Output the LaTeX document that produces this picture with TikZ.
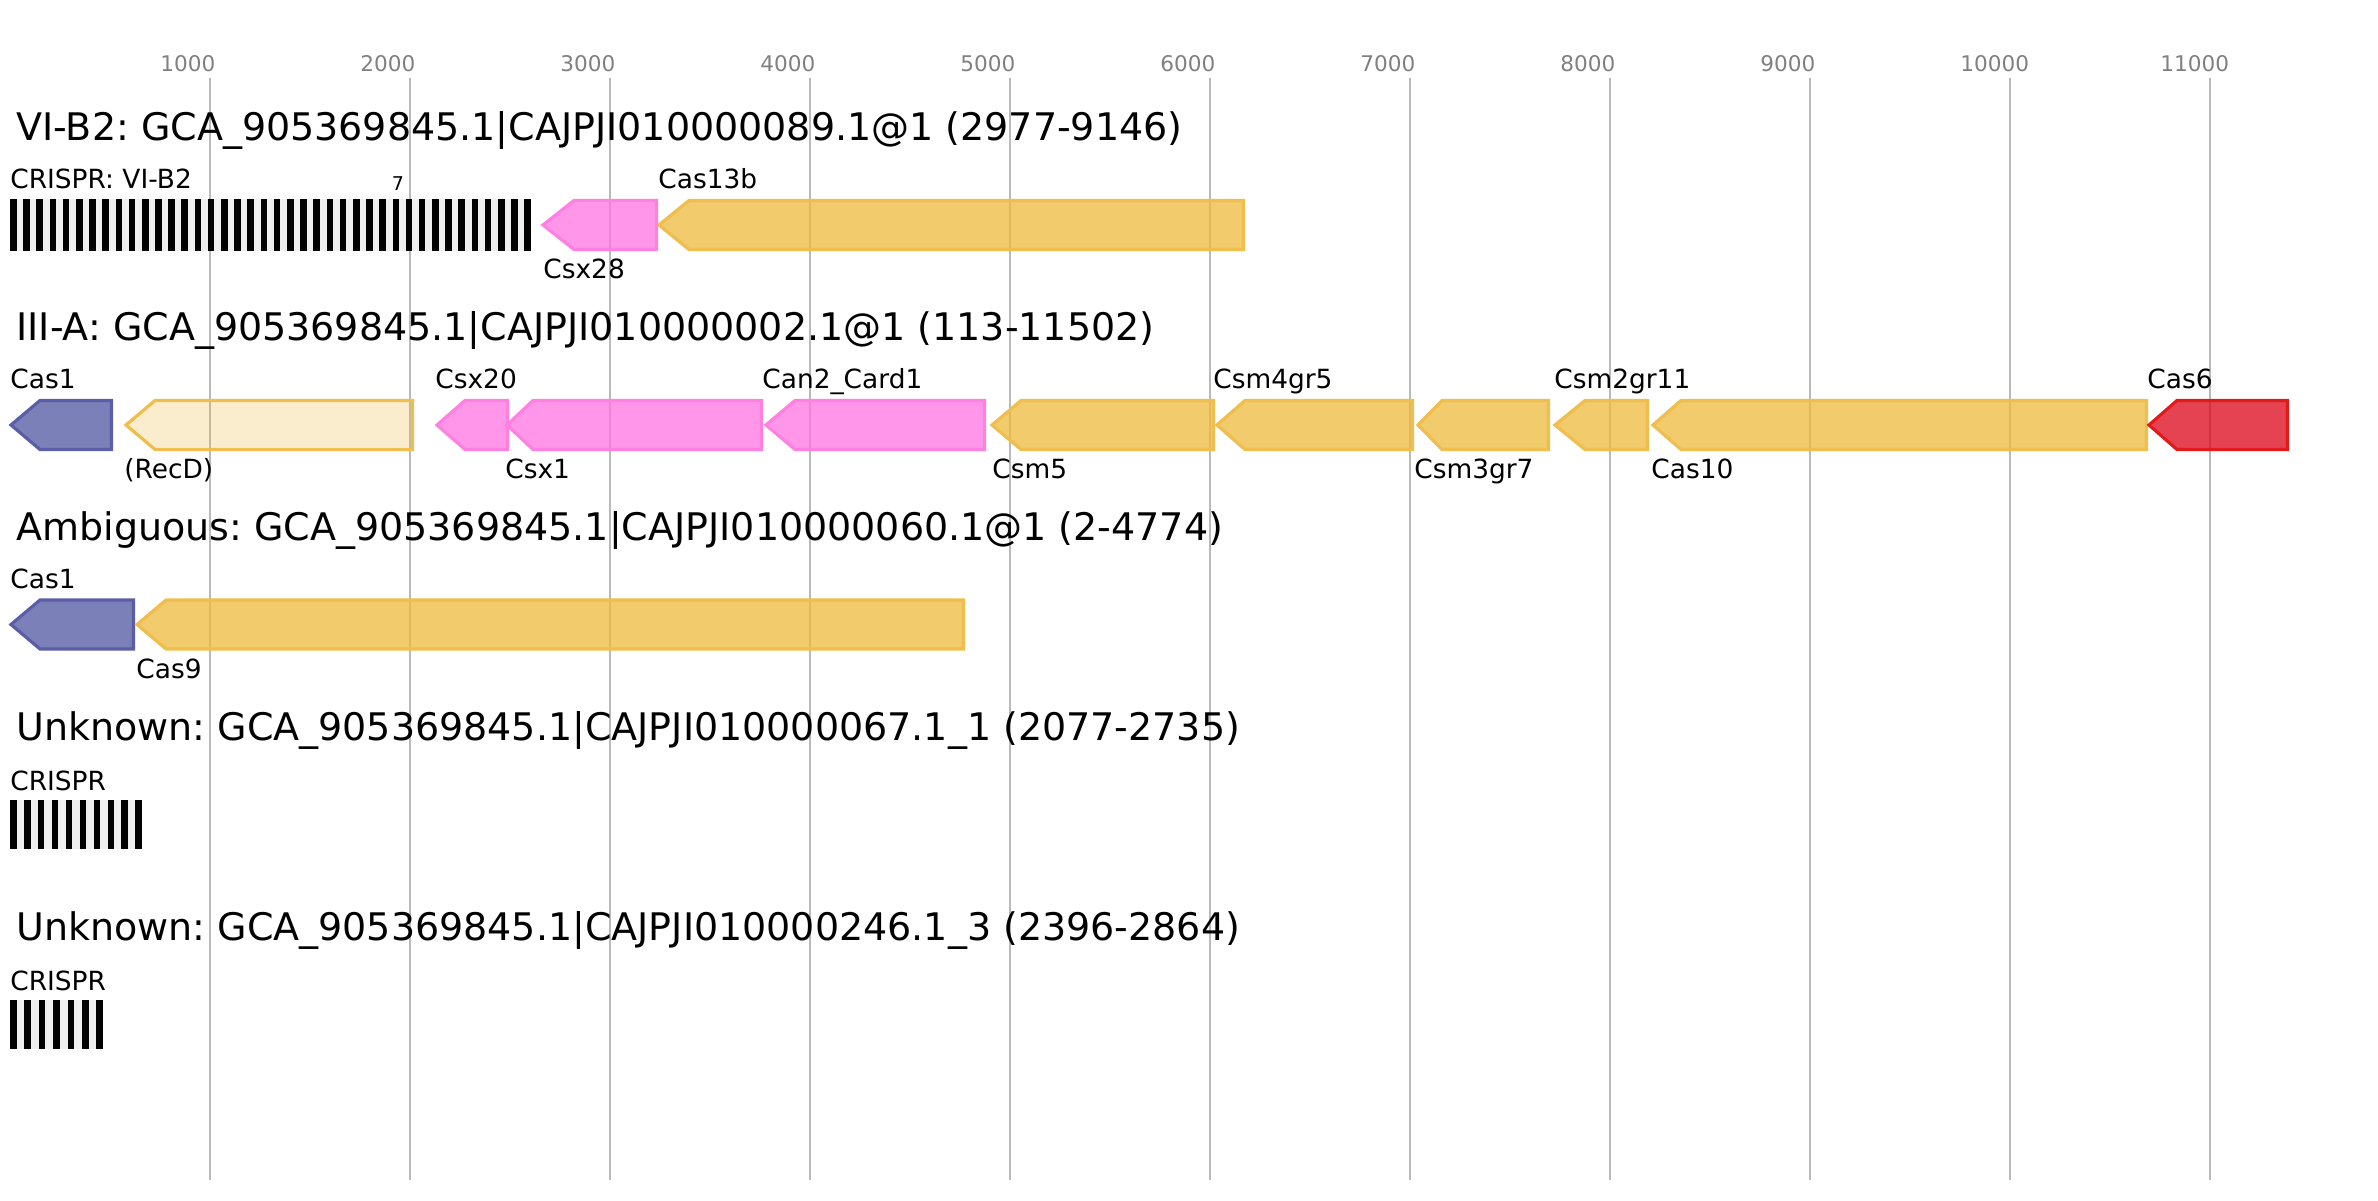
\documentclass[tikz,border=0pt]{standalone}
\usepackage{fontspec}
\setmainfont{DejaVu Sans}
\frenchspacing

\definecolor{pinkline}{HTML}{FF80E0}
\definecolor{pinkfill}{HTML}{FF73E1}
\definecolor{yellowline}{HTML}{EFBE4C}
\definecolor{yellowfill}{HTML}{EDB93B}
\definecolor{blueline}{HTML}{5B5EA6}
\definecolor{bluefill}{HTML}{4F55A0}
\definecolor{redline}{HTML}{E31A1C}
\definecolor{redfill}{HTML}{DC0417}
\definecolor{spacer}{HTML}{EFEFEF}

\begin{document}
\begin{tikzpicture}[x=0.5pt, y=-0.5pt]
    \tikzstyle{title}=[anchor=base west, inner sep=0, font=\fontsize{19}{21}\selectfont]
    \tikzstyle{label}=[anchor=base west, inner sep=0, font=\fontsize{13.2}{15}\selectfont]
    \tikzstyle{ticklabel}=[anchor=base west, inner sep=0, text=black!50, font=\fontsize{10.8}{12}\selectfont]
    \tikzstyle{gridline}=[draw=black!27, line width=1pt]
    \tikzstyle{gene}=[line width=1.6pt, fill opacity=0.75]
    \tikzstyle{gene-pink}=[gene, draw=pinkline, fill=pinkfill]
    \tikzstyle{gene-yellow}=[gene, draw=yellowline, fill=yellowfill]
    \tikzstyle{gene-light}=[gene, draw=yellowline, fill=yellowfill, fill opacity=0.25]
    \tikzstyle{gene-blue}=[gene, draw=blueline, fill=bluefill]
    \tikzstyle{gene-red}=[gene, draw=redline, fill=redfill]

    \useasboundingbox (0,0) rectangle (2378,1200);

    % scale
    \foreach \k in {1,...,11} {
        \draw [gridline] (10+\k*200,78) -- (10+\k*200,1180);
        \node (tick-\k) [ticklabel] at (\k*200-40,71) {\k000};
    }

    % VI-B2
    \node (title-vib2) [title] at (16,140) {VI-B2: GCA\_905369845.1|CAJPJI010000089.1@1 (2977-9146)};
    \fill [spacer] (10,199) rectangle (531,251);
    \foreach \i in {0,...,39} \fill (10+\i*13.19,199) rectangle ++(6.6,52);
    \node (crispr-vib2) [label] at (10,188) {CRISPR: VI-B2};
    \node (crispr-vib2-n) [label, anchor=base, font=\fontsize{9.5}{10}\selectfont] at (398,190) {7};
    \draw [gene-pink] (543,225) -- (574,200.5) -- (656.5,200.5) -- (656.5,249.5) -- (574,249.5) -- cycle;
    \node (csx28) [label] at (543,278) {Csx28};
    \draw [gene-yellow] (659,225) -- (689,200.5) -- (1243.5,200.5) -- (1243.5,249.5) -- (689,249.5) -- cycle;
    \node (cas13b) [label] at (658,188) {Cas13b};

    % III-A
    \node (title-iiia) [title] at (16,340) {III-A: GCA\_905369845.1|CAJPJI010000002.1@1 (113-11502)};
    \draw [gene-blue] (11,425) -- (40,400.5) -- (111.5,400.5) -- (111.5,449.5) -- (40,449.5) -- cycle;
    \node (cas1-iiia) [label] at (10,388) {Cas1};
    \draw [gene-light] (126,425) -- (155,400.5) -- (412.5,400.5) -- (412.5,449.5) -- (155,449.5) -- cycle;
    \node (recd) [label] at (124,478) {(RecD)};
    \draw [gene-pink] (437,425) -- (465,400.5) -- (507.5,400.5) -- (507.5,449.5) -- (465,449.5) -- cycle;
    \node (csx20) [label] at (435,388) {Csx20};
    \draw [gene-pink] (507,425) -- (533,400.5) -- (761.5,400.5) -- (761.5,449.5) -- (533,449.5) -- cycle;
    \node (csx1) [label] at (505,478) {Csx1};
    \draw [gene-pink] (766,425) -- (795,400.5) -- (984.5,400.5) -- (984.5,449.5) -- (795,449.5) -- cycle;
    \node (can2) [label] at (762,388) {Can2\_Card1};
    \draw [gene-yellow] (992,425) -- (1021,400.5) -- (1213.5,400.5) -- (1213.5,449.5) -- (1021,449.5) -- cycle;
    \node (csm5) [label] at (992,478) {Csm5};
    \draw [gene-yellow] (1217,425) -- (1245,400.5) -- (1412.5,400.5) -- (1412.5,449.5) -- (1245,449.5) -- cycle;
    \node (csm4gr5) [label] at (1213,388) {Csm4gr5};
    \draw [gene-yellow] (1418,425) -- (1442,400.5) -- (1548.5,400.5) -- (1548.5,449.5) -- (1442,449.5) -- cycle;
    \node (csm3gr7) [label] at (1414,478) {Csm3gr7};
    \draw [gene-yellow] (1555,425) -- (1585,400.5) -- (1647.5,400.5) -- (1647.5,449.5) -- (1585,449.5) -- cycle;
    \node (csm2gr11) [label] at (1554,388) {Csm2gr11};
    \draw [gene-yellow] (1653,425) -- (1681,400.5) -- (2146.5,400.5) -- (2146.5,449.5) -- (1681,449.5) -- cycle;
    \node (cas10) [label] at (1651,478) {Cas10};
    \draw [gene-red] (2149,425) -- (2177,400.5) -- (2287.5,400.5) -- (2287.5,449.5) -- (2177,449.5) -- cycle;
    \node (cas6) [label] at (2147,388) {Cas6};

    % Ambiguous
    \node (title-amb) [title] at (16,540) {Ambiguous: GCA\_905369845.1|CAJPJI010000060.1@1 (2-4774)};
    \draw [gene-blue] (11,624.5) -- (40,600) -- (133.5,600) -- (133.5,649) -- (40,649) -- cycle;
    \node (cas1-amb) [label] at (10,588) {Cas1};
    \draw [gene-yellow] (137,624.5) -- (166,600) -- (963.5,600) -- (963.5,649) -- (166,649) -- cycle;
    \node (cas9) [label] at (136,678) {Cas9};

    % Unknown 067
    \node (title-unk1) [title] at (16,740) {Unknown: GCA\_905369845.1|CAJPJI010000067.1\_1 (2077-2735)};
    \fill [spacer] (10,800) rectangle (142,849);
    \foreach \i in {0,...,9} \fill (10+\i*13.93,800) rectangle ++(6.6,49);
    \node (crispr-unk1) [label] at (10,790) {CRISPR};

    % Unknown 246
    \node (title-unk2) [title] at (16,940) {Unknown: GCA\_905369845.1|CAJPJI010000246.1\_3 (2396-2864)};
    \fill [spacer] (10,1000) rectangle (103,1049);
    \foreach \i in {0,...,6} \fill (10+\i*14.4,1000) rectangle ++(6.6,49);
    \node (crispr-unk2) [label] at (10,990) {CRISPR};
\end{tikzpicture}
\end{document}
